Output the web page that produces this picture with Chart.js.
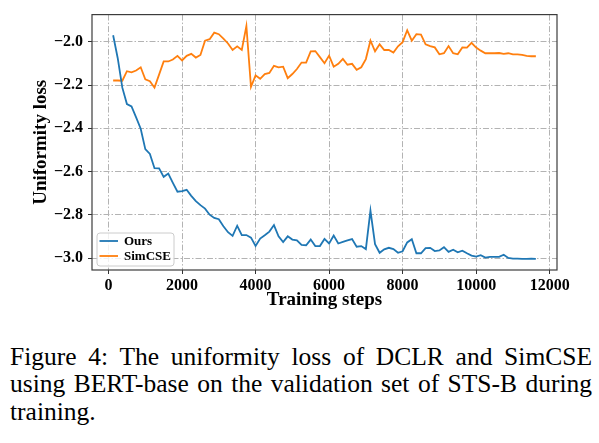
<!DOCTYPE html>
<html>
<head>
<meta charset="utf-8">
<script src="https://cdn.jsdelivr.net/npm/chart.js@4/dist/chart.umd.min.js"></script>
<style>
  body { margin: 0; background: #fff; }
  #wrap { position: relative; width: 599px; height: 443px; }
  #chart { position: absolute; left: 0; top: 0; }
  .cap { position: absolute; left: 10px; width: 582px; font-family: 'Liberation Serif', 'Times New Roman', serif;
         font-size: 25.5px; line-height: 27.5px; color: #000; white-space: nowrap; }
  .just { text-align: justify; text-align-last: justify; }
</style>
</head>
<body>
<div id="wrap">
  <canvas id="chart" width="599" height="315"></canvas>
  <div class="cap just" style="top:342.5px">Figure 4: The uniformity loss of DCLR and SimCSE</div>
  <div class="cap just" style="top:370px">using BERT-base on the validation set of STS-B during</div>
  <div class="cap" style="top:397.5px">training.</div>
</div>
<script>
// Training steps (one evaluation every 125 steps)
const steps = [
  125, 250, 375, 500, 625, 750, 875, 1000, 1125, 1250, 1375, 1500, 1625, 1750, 1875, 2000,
  2125, 2250, 2375, 2500, 2625, 2750, 2875, 3000, 3125, 3250, 3375, 3500, 3625, 3750, 3875, 4000,
  4125, 4250, 4375, 4500, 4625, 4750, 4875, 5000, 5125, 5250, 5375, 5500, 5625, 5750, 5875, 6000,
  6125, 6250, 6375, 6500, 6625, 6750, 6875, 7000, 7125, 7250, 7375, 7500, 7625, 7750, 7875, 8000,
  8125, 8250, 8375, 8500, 8625, 8750, 8875, 9000, 9125, 9250, 9375, 9500, 9625, 9750, 9875, 10000,
  10125, 10250, 10375, 10500, 10625, 10750, 10875, 11000, 11125, 11250, 11375, 11500, 11625
];

// Uniformity loss - Ours
const ours = [
  -1.970, -2.076, -2.212, -2.288, -2.299, -2.349, -2.402, -2.496, -2.518, -2.584, -2.585, -2.624, -2.609, -2.652, -2.693, -2.690,
  -2.684, -2.712, -2.736, -2.755, -2.771, -2.799, -2.814, -2.820, -2.852, -2.880, -2.897, -2.850, -2.893, -2.893, -2.905, -2.943,
  -2.909, -2.894, -2.877, -2.847, -2.899, -2.925, -2.899, -2.914, -2.917, -2.938, -2.940, -2.914, -2.944, -2.944, -2.911, -2.932,
  -2.895, -2.932, -2.925, -2.918, -2.912, -2.947, -2.944, -2.958, -2.780, -2.935, -2.975, -2.959, -2.952, -2.958, -2.975, -2.968,
  -2.927, -2.912, -2.977, -2.977, -2.953, -2.952, -2.967, -2.964, -2.949, -2.971, -2.961, -2.973, -2.965, -2.977, -2.988, -2.993,
  -2.986, -2.997, -2.994, -2.994, -2.994, -2.984, -2.999, -3.002, -3.002, -3.003, -3.003, -3.002, -3.003
];

// Uniformity loss - SimCSE
const simcse = [
  -2.179, -2.179, -2.180, -2.136, -2.141, -2.133, -2.118, -2.174, -2.182, -2.212, -2.152, -2.091, -2.091, -2.082, -2.065, -2.086,
  -2.065, -2.056, -2.073, -2.061, -1.995, -1.988, -1.958, -1.965, -1.985, -2.008, -2.038, -2.021, -2.038, -1.927, -2.208, -2.155,
  -2.171, -2.149, -2.144, -2.111, -2.118, -2.115, -2.168, -2.149, -2.126, -2.096, -2.096, -2.044, -2.043, -2.071, -2.099, -2.064,
  -2.115, -2.102, -2.079, -2.106, -2.102, -2.130, -2.118, -2.080, -1.994, -2.044, -2.012, -2.038, -2.038, -2.050, -2.021, -2.002,
  -1.947, -1.995, -1.965, -1.967, -2.012, -2.020, -2.026, -2.058, -2.053, -2.020, -2.053, -2.058, -2.026, -2.027, -2.005, -2.027,
  -2.041, -2.053, -2.053, -2.053, -2.052, -2.056, -2.053, -2.058, -2.058, -2.061, -2.065, -2.067, -2.067
];

const xTicks = [0, 2000, 4000, 6000, 8000, 10000, 12000];
const yTicks = [-3.0, -2.8, -2.6, -2.4, -2.2, -2.0];

const serif = "'Liberation Serif', 'Times New Roman', serif";
const gridColor = '#b3b3b3';

// full box around the plot + legend in the lower left corner
const frameAndLegend = {
  id: 'frameAndLegend',
  afterDraw(chart) {
    const c = chart.ctx, a = chart.chartArea;
    c.save();
    c.strokeStyle = '#3c3c3c';
    c.lineWidth = 1.2;
    c.strokeRect(a.left, a.top, a.right - a.left, a.bottom - a.top);

    const bx = a.left + 5, by = a.bottom - 37, bw = 77, bh = 33;
    c.beginPath();
    c.roundRect(bx, by, bw, bh, 3);
    c.fillStyle = 'rgba(255,255,255,0.8)';
    c.fill();
    c.strokeStyle = '#cccccc';
    c.lineWidth = 1;
    c.stroke();

    c.font = 'bold 13px ' + serif;
    c.textBaseline = 'middle';
    chart.data.datasets.forEach((ds, i) => {
      const y = by + 8 + i * 15;
      c.strokeStyle = ds.borderColor;
      c.lineWidth = 1.8;
      c.beginPath();
      c.moveTo(bx + 2.5, y);
      c.lineTo(bx + 21, y);
      c.stroke();
      c.fillStyle = '#000';
      c.fillText(ds.label, bx + 27, y + 0.5);
    });
    c.restore();
  }
};

const ctx = document.getElementById('chart').getContext('2d');
const myChart = new Chart(ctx, {
  type: 'line',
  data: {
    datasets: [{
      label: 'Ours',
      data: steps.map((s, i) => ({x: s, y: ours[i]})),
      borderColor: '#1f77b4',
      borderWidth: 1.8,
      pointRadius: 0,
      tension: 0
    }, {
      label: 'SimCSE',
      data: steps.map((s, i) => ({x: s, y: simcse[i]})),
      borderColor: '#ff7f0e',
      borderWidth: 1.8,
      pointRadius: 0,
      tension: 0
    }]
  },
  options: {
    responsive: false,
    animation: false,
    devicePixelRatio: 1,
    layout: { padding: { left: 0, right: 42, top: 11, bottom: 0 } },
    plugins: { legend: { display: false }, tooltip: { enabled: false } },
    scales: {
      x: {
        type: 'linear',
        min: -450,
        max: 12200,
        afterBuildTicks: s => { s.ticks = xTicks.map(v => ({value: v})); },
        afterFit: s => { s.height = 45; },
        grid: { color: gridColor, lineWidth: 1, tickLength: 4, tickColor: '#333', tickWidth: 1, tickBorderDash: [] },
        border: { display: false, dash: [6, 2, 1.5, 2] },
        ticks: { color: '#000', padding: 2, maxRotation: 0, font: { family: serif, size: 16, weight: 'bold' },
                 callback: v => String(v) },
        title: { display: true, text: 'Training steps', color: '#000', padding: { top: 0, bottom: 4 },
                 font: { family: serif, size: 19, weight: 'bold' } }
      },
      y: {
        type: 'linear',
        min: -3.0545,
        max: -1.8745,
        afterBuildTicks: s => { s.ticks = yTicks.map(v => ({value: v})); },
        afterFit: s => { s.width = 92; },
        grid: { color: gridColor, lineWidth: 1, tickLength: 4, tickColor: '#333', tickWidth: 1, tickBorderDash: [] },
        border: { display: false, dash: [6, 2, 1.5, 2] },
        ticks: { color: '#000', padding: 5, font: { family: serif, size: 16, weight: 'bold' },
                 callback: v => '\u2212' + Math.abs(v).toFixed(1) },
        title: { display: true, text: 'Uniformity loss', color: '#000', padding: { top: 30, bottom: 0 },
                 font: { family: serif, size: 19, weight: 'bold' } }
      }
    }
  },
  plugins: [frameAndLegend]
});
</script>
</body>
</html>
